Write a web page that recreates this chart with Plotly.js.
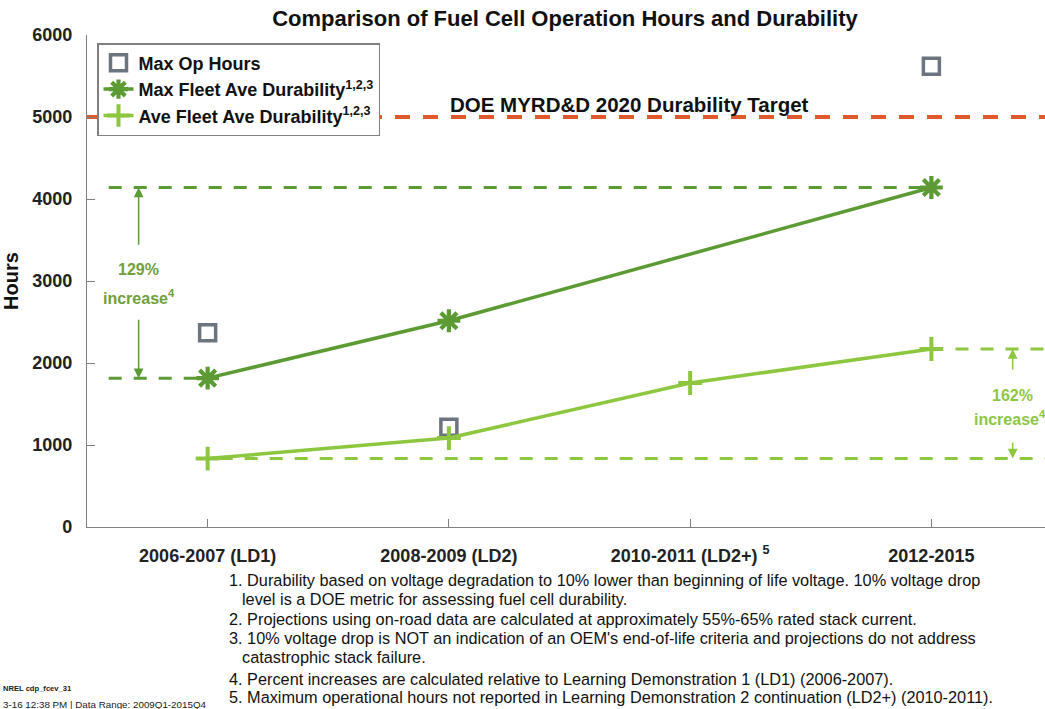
<!DOCTYPE html>
<html>
<head>
<meta charset="utf-8">
<script src="https://cdn.plot.ly/plotly-3.0.1.min.js"></script>
<style>
html,body{margin:0;padding:0;overflow:hidden;background:#fff;}
#chart{width:1052px;height:709px;}
</style>
</head>
<body>
<div id="chart"></div>
<script>
// ---- data ----
var categories = ['2006-2007 (LD1)', '2008-2009 (LD2)', '2010-2011 (LD2+) <sup>5</sup>', '2012-2015'];
var catIndex = [0, 1, 2, 3];
var maxOpHours = [2370, 1215, null, 5620];
var maxFleetDurability = [1815, 2515, null, 4140];
var aveFleetDurability = [835, 1085, 1756, 2171];
var durabilityTarget = 5000;
var yTicks = [0, 1000, 2000, 3000, 4000, 5000, 6000];
var increaseMax = '129%';
var increaseAve = '162%';
var footnotes = [
  '1. Durability based on voltage degradation to 10% lower than beginning of life voltage. 10% voltage drop',
  '    level is a DOE metric for assessing fuel cell durability.',
  '2. Projections using on-road data are calculated at approximately 55%-65% rated stack current.',
  '3. 10% voltage drop is NOT an indication of an OEM\'s end-of-life criteria and projections do not address',
  '    catastrophic stack failure.',
  '4. Percent increases are calculated relative to Learning Demonstration 1 (LD1) (2006-2007).',
  '5. Maximum operational hours not reported in Learning Demonstration 2 continuation (LD2+) (2010-2011).'
];

// ---- styles ----
var C_GREY = '#6c7480', C_DARK = '#5c9a34', C_LIGHT = '#8dc63f', C_ORANGE = '#e0592a';
var FONT = 'Liberation Sans, Arial, sans-serif';

var L = 87, T = 35, W = 965, H = 492;
function px(x){ return (x - L) / W; }
function py(y){ return (T + H - y) / H; }

var traces = [
  {x: catIndex, y: maxOpHours, mode: 'markers', name: '<b>Max Op Hours</b>',
   marker: {symbol: 'square-open', size: 16, color: C_GREY, line: {width: 3.5, color: C_GREY}}},
  {x: catIndex, y: maxFleetDurability, mode: 'lines+markers', connectgaps: true,
   name: '<b>Max Fleet Ave Durability<sup>1,2,3</sup></b>',
   line: {color: C_DARK, width: 3.5},
   marker: {symbol: 'asterisk-open', size: 19, color: C_DARK, line: {width: 4.2, color: C_DARK}}},
  {x: catIndex, y: aveFleetDurability, mode: 'lines+markers',
   name: '<b>Ave Fleet Ave Durability<sup>1,2,3</sup></b>',
   line: {color: C_LIGHT, width: 3.5},
   marker: {symbol: 'cross-thin-open', size: 17, color: C_LIGHT, line: {width: 4, color: C_LIGHT}}}
];

var maxFirst = maxFleetDurability[0], maxLast = maxFleetDurability[3];
var aveFirst = aveFleetDurability[0], aveLast = aveFleetDurability[3];

var shapes = [
  {type: 'line', xref: 'x', yref: 'y', x0: -0.5, x1: 3.5, y0: durabilityTarget, y1: durabilityTarget,
   line: {color: C_ORANGE, width: 4, dash: '15px,13px'}, layer: 'below'},
  {type: 'line', xref: 'x', yref: 'y', x0: -0.41, x1: 2.97, y0: maxLast, y1: maxLast,
   line: {color: C_DARK, width: 3, dash: '13px,12px'}, layer: 'below'},
  {type: 'line', xref: 'x', yref: 'y', x0: -0.41, x1: 0, y0: maxFirst, y1: maxFirst,
   line: {color: C_DARK, width: 3, dash: '13px,12px'}, layer: 'below'},
  {type: 'line', xref: 'x', yref: 'y', x0: 0.05, x1: 3.5, y0: aveFirst, y1: aveFirst,
   line: {color: C_LIGHT, width: 3, dash: '13px,12px'}, layer: 'below'},
  {type: 'line', xref: 'x', yref: 'y', x0: 3.1, x1: 3.5, y0: aveLast, y1: aveLast,
   line: {color: C_LIGHT, width: 3, dash: '13px,12px'}, layer: 'below'}
];

var arrowXMax = -0.286, arrowXAve = 3.337;
var annotations = [
  {xref: 'x', yref: 'y', x: 1.75, y: durabilityTarget, yanchor: 'bottom', yshift: -1,
   text: '<b>DOE MYRD&amp;D 2020 Durability Target</b>', showarrow: false,
   font: {family: FONT, size: 20.5, color: '#111'}},
  // 129% arrows
  {xref: 'x', yref: 'y', axref: 'x', ayref: 'y', x: arrowXMax, y: maxLast, ax: arrowXMax, ay: 3320,
   showarrow: true, arrowhead: 2, arrowsize: 1.3, arrowwidth: 1.5, arrowcolor: C_DARK, text: ' '},
  {xref: 'x', yref: 'y', axref: 'x', ayref: 'y', x: arrowXMax, y: maxFirst, ax: arrowXMax, ay: 2650,
   showarrow: true, arrowhead: 2, arrowsize: 1.3, arrowwidth: 1.5, arrowcolor: C_DARK, text: ' '},
  {xref: 'x', yref: 'y', x: arrowXMax, y: 3140, showarrow: false,
   text: '<b>' + increaseMax + '</b>', font: {family: FONT, size: 16, color: '#6fa03c'}},
  {xref: 'x', yref: 'y', x: arrowXMax, y: 2800, showarrow: false,
   text: '<b>increase<sup>4</sup></b>', font: {family: FONT, size: 16, color: '#6fa03c'}},
  // 162% arrows
  {xref: 'x', yref: 'y', axref: 'x', ayref: 'y', x: arrowXAve, y: aveLast, ax: arrowXAve, ay: 1800,
   showarrow: true, arrowhead: 2, arrowsize: 1.3, arrowwidth: 1.5, arrowcolor: C_LIGHT, text: ' '},
  {xref: 'x', yref: 'y', axref: 'x', ayref: 'y', x: arrowXAve, y: aveFirst, ax: arrowXAve, ay: 1150,
   showarrow: true, arrowhead: 2, arrowsize: 1.3, arrowwidth: 1.5, arrowcolor: C_LIGHT, text: ' '},
  {xref: 'x', yref: 'y', x: arrowXAve, y: 1605, showarrow: false,
   text: '<b>' + increaseAve + '</b>', font: {family: FONT, size: 16, color: C_LIGHT}},
  {xref: 'x', yref: 'y', x: arrowXAve, y: 1325, xshift: -3, showarrow: false,
   text: '<b>increase<sup>4</sup></b>', font: {family: FONT, size: 16, color: C_LIGHT}},
  // bottom-left stamp
  {xref: 'paper', yref: 'paper', x: px(1), y: py(688), xanchor: 'left', yanchor: 'middle', showarrow: false,
   text: '<b>NREL cdp_fcev_31</b>', font: {family: FONT, size: 7.6, color: '#222'}},
  {xref: 'paper', yref: 'paper', x: px(1), y: py(704), xanchor: 'left', yanchor: 'middle', showarrow: false,
   text: '3-16 12:38 PM | Data Range: 2009Q1-2015Q4', font: {family: FONT, size: 9.8, color: '#222'}}
];
var fnY = [580, 599, 619, 638, 657, 679, 697];
footnotes.forEach(function(t, i){
  var indent = t.indexOf('    ') === 0;
  annotations.push({xref: 'paper', yref: 'paper', x: px(indent ? 240 : 227), y: py(fnY[i]),
    xanchor: 'left', yanchor: 'middle', showarrow: false, text: t.trim(),
    font: {family: FONT, size: 16.3, color: '#111'}});
});

var layout = {
  width: 1052, height: 709,
  margin: {l: L, r: 1052 - L - W, t: T, b: 709 - T - H},
  paper_bgcolor: '#fff', plot_bgcolor: '#fff',
  title: {text: '<b>Comparison of Fuel Cell Operation Hours and Durability</b>',
    font: {family: FONT, size: 22, color: '#111'},
    xref: 'container', x: 565 / 1052, xanchor: 'center', yref: 'container', y: 1 - 18 / 709, yanchor: 'middle'},
  xaxis: {range: [-0.5, 3.5], tickvals: catIndex, ticktext: categories.map(function(c){return '<b>' + c + '</b>';}),
    ticks: 'inside', ticklen: 8, tickcolor: '#808080', tickwidth: 1,
    showline: true, linecolor: '#808080', linewidth: 1.2, showgrid: false, zeroline: false,
    tickfont: {family: FONT, size: 18, color: '#222'}, ticklabelstandoff: 12},
  yaxis: {range: [0, 6000], tickvals: yTicks, ticks: 'inside', ticklen: 8, tickcolor: '#808080', tickwidth: 1,
    showline: true, linecolor: '#808080', linewidth: 1.2, showgrid: false, zeroline: false,
    tickfont: {family: FONT, size: 18, color: '#222', weight: 'bold'}, ticklabelstandoff: 10,
    title: {text: '<b>Hours</b>', font: {family: FONT, size: 20, color: '#111'}, standoff: 8}},
  legend: {x: px(97), y: py(43), xanchor: 'left', yanchor: 'top', bgcolor: '#fff',
    bordercolor: '#808080', borderwidth: 1.5, font: {family: FONT, size: 18, color: '#111'},
    itemwidth: 30, tracegroupgap: 0},
  showlegend: true,
  shapes: shapes,
  annotations: annotations
};

Plotly.newPlot('chart', traces, layout, {displayModeBar: false, staticPlot: true});
</script>
</body>
</html>
